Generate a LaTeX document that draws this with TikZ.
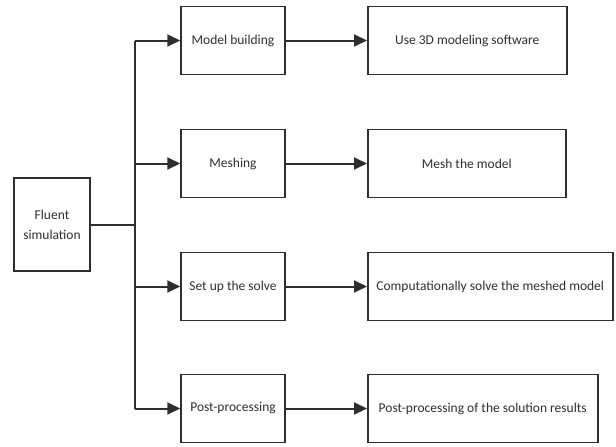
\documentclass[tikz,border=0pt]{standalone}
\usepackage{fontspec}
\setmainfont{Carlito}
\usetikzlibrary{arrows.meta}
\definecolor{linegray}{HTML}{2E2E2E}
\tikzset{
  box/.style = {draw=linegray, line width=1.5pt, minimum height=68pt, inner sep=2pt,
                text=linegray, font=\fontsize{13.5}{20}\selectfont},
  arr/.style = {-{Triangle[length=13pt,width=12pt]}},
  wire/.style = {draw=linegray, line width=2pt},
}
\begin{document}
\begin{tikzpicture}[x=1pt, y=-1pt]
    \useasboundingbox (0,0) rectangle (616,447);

    % Root
    \node[box, minimum width=76pt, minimum height=93pt, align=center] (fluent) at (52,224.5) {Fluent\\simulation};

    % Steps and details
    \foreach \i/\y/\step/\detail/\w in {1/40.5/Model building/Use 3D modeling software/199,
                                        2/163.5/Meshing/Mesh the model/198,
                                        3/286.5/Set up the solve/Computationally solve the meshed model/245,
                                        4/408.5/Post-processing/Post-processing of the solution results/230}
    {
        \coordinate (j\i) at (135,\y);
        \node[box, minimum width=104pt] (s\i) at (233,\y) {\step};
        \node[box, minimum width=\w pt, anchor=west] (d\i) at (367,\y) {\detail};
        \draw[wire, arr] (j\i) -- (s\i);
        \draw[wire, arr] (s\i) -- (d\i);
    }

    % Trunk
    \draw[wire] (fluent) -- (fluent -| j1);
    \draw[wire] (j1) -- (j4);
\end{tikzpicture}
\end{document}
